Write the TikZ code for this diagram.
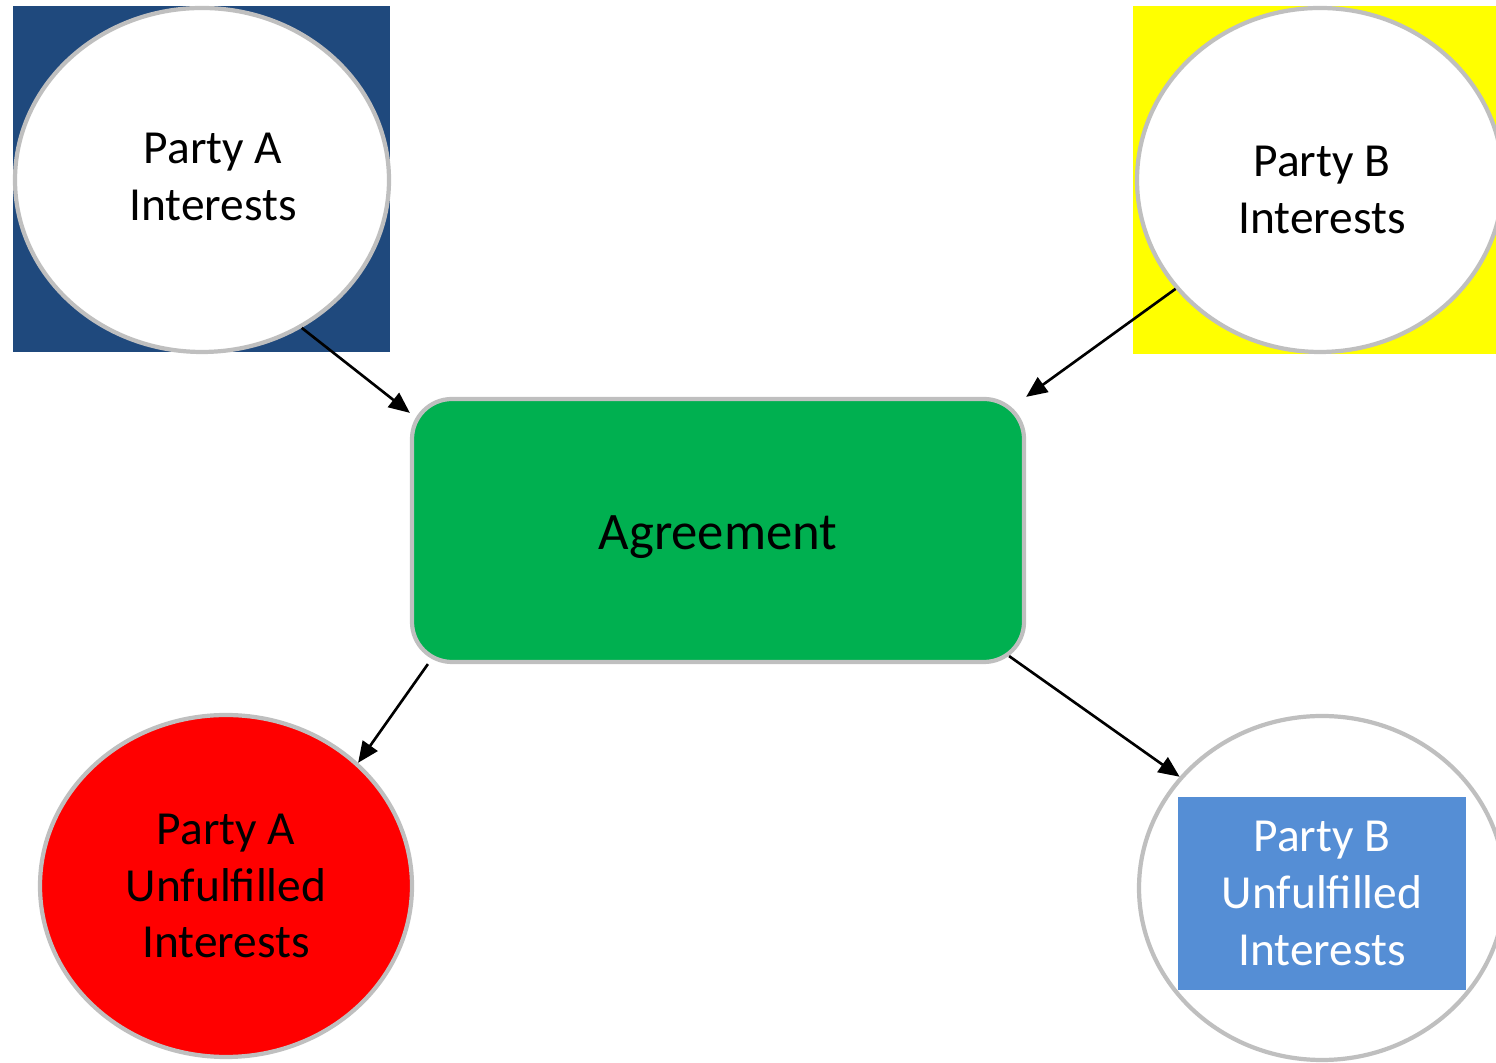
\documentclass[tikz,border=0pt]{standalone}
\usepackage{fontspec}
\setmainfont{Carlito}
\usetikzlibrary{arrows.meta,shapes.geometric}
\definecolor{partyNavy}{HTML}{1F497D}
\definecolor{partyYellow}{HTML}{FFFF00}
\definecolor{dealGreen}{HTML}{00B050}
\definecolor{lossRed}{HTML}{FF0000}
\definecolor{lossBlue}{HTML}{558ED5}
\definecolor{rimGray}{HTML}{BFBFBF}

\begin{document}
\begin{tikzpicture}[font=\fontsize{13.5}{16.2}\selectfont,
    party/.style={ellipse, draw=rimGray, line width=1.2pt, fill=white, inner sep=0pt, align=center},
    link/.style={-{Triangle[length=0.21cm, width=0.18cm]}, line width=0.75pt}]

    \useasboundingbox (0,0) rectangle (14.96,10.63);

    % Party A
    \fill[partyNavy] (0.13,7.11) rectangle (3.90,10.57);
    \node (pa) [party, minimum width=3.74cm, minimum height=3.44cm,
                label={[align=center, xshift=0.11cm, yshift=0.03cm]center:Party A\\Interests}] at (2.02,8.83) {};

    % Party B
    \fill[partyYellow] (11.33,7.09) rectangle (14.96,10.57);
    \node (pb) [party, minimum width=3.66cm, minimum height=3.44cm,
                label={[align=center, xshift=0.02cm, yshift=-0.1cm]center:Party B\\Interests}] at (13.20,8.83) {};

    % Agreement
    \node (agr) [draw=rimGray, line width=1.2pt, fill=dealGreen, rounded corners=0.4cm,
                 minimum width=6.12cm, minimum height=2.63cm,
                 label={[font=\fontsize{15}{18}\selectfont, yshift=-0.07cm]center:Agreement}] at (7.18,5.325) {};

    % Unfulfilled interests
    \node (pau) [party, fill=lossRed, minimum width=3.72cm, minimum height=3.42cm] at (2.26,1.77)
        {Party A\\Unfulfilled\\Interests};
    \node (pbu) [party, minimum width=3.66cm, minimum height=3.44cm] at (13.22,1.75) {};
    \node (pbubox) [fill=lossBlue, text=white, align=center, inner sep=0pt,
                    minimum width=2.88cm, minimum height=1.93cm] at (13.22,1.695)
        {Party B\\Unfulfilled\\Interests};

    % Flows
    \draw[link] (pa.-56) -- ([yshift=-0.16cm]agr.north west);
    \draw[link] (pb.-143) -- (agr.north east);
    \draw[link] ([xshift=0.18cm]agr.south west) -- (pau.43);
    \draw[link] ([xshift=-0.17cm, yshift=0.08cm]agr.south east) -- (pbu.142);

\end{tikzpicture}
\end{document}
